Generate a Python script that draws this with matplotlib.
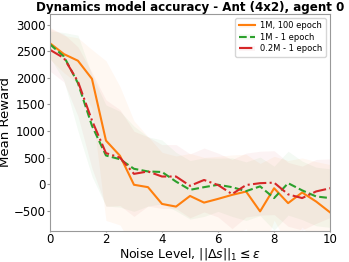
import numpy as np
import matplotlib
matplotlib.use("Agg")
import matplotlib.pyplot as plt

# noise levels
noise = [0, 0.5, 1, 1.5, 2, 2.5, 3, 3.5, 4, 4.5, 5, 5.5, 6, 6.5, 7, 7.5, 8, 8.5, 9, 9.5, 10]

# mean rewards
m_1m_100 = [2650, 2445, 2320, 1980, 820, 535, -10, -55, -370, -420, -220, -345, -275,
            -200, -137, -510, -75, -355, -155, -325, -530]
m_1m_1 = [2630, 2400, 1900, 1100, 540, 470, 290, 240, 230, 50, -105, -55, -10,
          -55, -130, -40, -260, 20, -115, -230, -260]
m_02m_1 = [2526, 2370, 1930, 1200, 585, 500, 195, 240, 145, 145, -30, 80, -15,
           -185, -15, 20, 30, -190, -260, -135, -75]

# std bands (rough estimates)
s_1m_100 = [300, 350, 430, 550, 1500, 1300, 1200, 950, 970, 950, 800, 850, 800,
            750, 700, 900, 600, 800, 650, 750, 900]
s_1m_1 = [250, 450, 900, 950, 950, 900, 800, 650, 600, 550, 550, 550, 500,
          550, 550, 550, 600, 600, 550, 550, 550]
s_02m_1 = [400, 450, 650, 900, 1000, 900, 800, 650, 600, 600, 600, 600, 600,
           650, 600, 600, 600, 600, 600, 600, 550]

series = [
    ("1M, 100 epoch", m_1m_100, s_1m_100, "#ff7f0e", "-"),
    ("1M - 1 epoch", m_1m_1, s_1m_1, "#2ca02c", "--"),
    ("0.2M - 1 epoch", m_02m_1, s_02m_1, "#d62728", "-."),
]

fig = plt.figure(figsize=(3.49, 2.62), dpi=100)
ax = fig.add_axes([0.143, 0.118, 0.803, 0.829])

x = np.array(noise)
handles = []
for label, m, s, c, ls in series:
    m = np.array(m)
    s = np.array(s)
    band = ax.fill_between(x, m - s, m + s, color=c, alpha=0.05, lw=0)
    line, = ax.plot(x, m, color=c, ls=ls, lw=1.5)
    handles.append(((band, line), label))

ax.set_xlim(0, 10)
ax.set_ylim(-880, 3200)
ax.set_xticks([0, 2, 4, 6, 8, 10])
ax.set_yticks([-500, 0, 500, 1000, 1500, 2000, 2500, 3000])
ax.tick_params(axis="y", labelsize=8.5, length=2.5, pad=0.5, color="#999999")
ax.tick_params(axis="x", labelsize=8.5, length=1, pad=0.5, color="#999999")
for sp in ax.spines.values():
    sp.set_color("#999999")

ax.set_xlabel(r"Noise Level, $||\Delta s||_1 \leq \epsilon$", fontsize=9, labelpad=0)
ax.set_ylabel("Mean Reward", fontsize=9.5, labelpad=1.5)
ax.set_title("Dynamics model accuracy - Ant (4x2), agent 0", fontsize=8.6,
             fontweight="bold", pad=2)

ax.legend([h for h, _ in handles], [l for _, l in handles], loc="upper right",
          fontsize=6, handlelength=2.0, borderpad=0.4, labelspacing=0.3,
          handletextpad=0.6)

plt.savefig("out.png", dpi=100)
